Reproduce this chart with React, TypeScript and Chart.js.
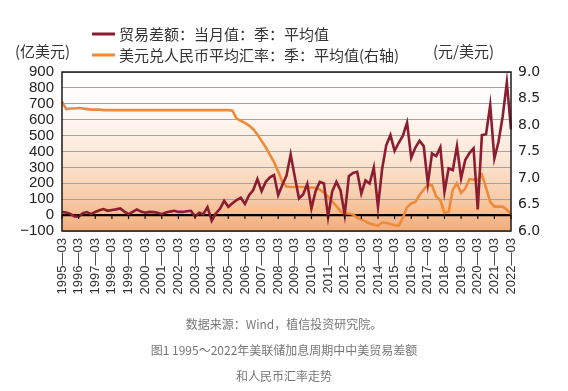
import React, { useEffect, useRef } from "react";
import { Chart, registerables } from "chart.js";

Chart.register(...registerables);

const YEARS = [
  1995, 1996, 1997, 1998, 1999, 2000, 2001, 2002, 2003, 2004, 2005, 2006, 2007, 2008,
  2009, 2010, 2011, 2012, 2013, 2014, 2015, 2016, 2017, 2018, 2019, 2020, 2021, 2022,
];
const QUARTER_MONTHS = ["03", "06", "09", "12"];
const LAST_CATEGORY = "2022—03";

const CATEGORIES: string[] = [];
for (const y of YEARS) {
  for (const m of QUARTER_MONTHS) {
    const c = `${y}—${m}`;
    if (CATEGORIES.length === 0 || CATEGORIES[CATEGORIES.length - 1] !== LAST_CATEGORY) CATEGORIES.push(c);
  }
}

// 贸易差额：当月值：季：平均值 (亿美元)
const TRADE_BALANCE = [
  20, 16, 8, -8, -10, 12, 19, 6,
  20, 30, 38, 27, 32, 36, 42, 22,
  6, 20, 36, 22, 15, 20, 19, 14,
  6, 16, 22, 27, 20, 20, 24, 27,
  -8, 15, 6, 50, -36, 10, 40, 90,
  52, 75, 95, 109, 70, 125, 158, 226,
  150, 209, 238, 252, 126, 190, 248, 382,
  240, 105, 130, 197, 42, 150, 209, 199,
  -11, 150, 209, 155, 2, 245, 265, 272,
  136, 218, 199, 300, 52, 290, 440, 503,
  404, 455, 500, 582, 360, 425, 467, 434,
  199, 388, 371, 426, 147, 294, 283, 434,
  231, 346, 390, 419, 36, 503, 509, 692,
  356, 461, 620, 835, 539,
];

// 美元兑人民币平均汇率：季：平均值 (元/美元, 右轴)
const USDCNY = [
  8.44, 8.30, 8.31, 8.31, 8.32, 8.31, 8.30, 8.29,
  8.29, 8.29, 8.28, 8.28, 8.28, 8.28, 8.28, 8.28,
  8.28, 8.28, 8.28, 8.28, 8.28, 8.28, 8.28, 8.28,
  8.28, 8.28, 8.28, 8.28, 8.28, 8.28, 8.28, 8.28,
  8.28, 8.28, 8.28, 8.28, 8.28, 8.28, 8.28, 8.28,
  8.28, 8.27, 8.12, 8.08, 8.04, 7.99, 7.92, 7.82,
  7.70, 7.58, 7.44, 7.30, 7.12, 6.93, 6.84, 6.83,
  6.83, 6.83, 6.83, 6.82, 6.82, 6.81, 6.78, 6.72,
  6.65, 6.56, 6.47, 6.37, 6.33, 6.33, 6.31, 6.25,
  6.22, 6.18, 6.14, 6.12, 6.10, 6.16, 6.15, 6.13,
  6.11, 6.10, 6.25, 6.45, 6.52, 6.55, 6.68, 6.78,
  6.87, 6.86, 6.65, 6.58, 6.34, 6.36, 6.78, 6.90,
  6.72, 6.80, 6.98, 6.97, 6.96, 7.06, 6.82, 6.55,
  6.46, 6.46, 6.46, 6.40, 6.32,
];

const LEFT_MIN = -100;
const LEFT_MAX = 900;
const LEFT_STEP = 100;
const RIGHT_MIN = 6;
const RIGHT_MAX = 9;
const RIGHT_STEP = 0.5;

const SERIES_NAMES = ["贸易差额：当月值：季：平均值", "美元兑人民币平均汇率：季：平均值(右轴)"];
const LEFT_UNIT = "(亿美元)";
const RIGHT_UNIT = "(元/美元)";
const CAPTION_LINES = [
  "数据来源：Wind，植信投资研究院。",
  "图1 1995～2022年美联储加息周期中中美贸易差额",
  "和人民币汇率走势",
];

const MAROON = "#8b1d33";
const ORANGE = "#ef8a3a";
const CJK = '"Noto Sans CJK SC", "Noto Sans", sans-serif';

const decorPlugin = {
  id: "decor",
  beforeDraw(chart: any) {
    const { ctx, chartArea: a } = chart;
    const g = ctx.createLinearGradient(0, a.top, 0, a.bottom);
    g.addColorStop(0, "#ffffff");
    g.addColorStop(0.2, "#fffcfa");
    g.addColorStop(0.55, "#fce6d4");
    g.addColorStop(0.8, "#f7cba8");
    g.addColorStop(1, "#f1ad7b");
    ctx.save();
    ctx.fillStyle = g;
    ctx.fillRect(a.left, a.top, a.right - a.left, a.bottom - a.top);
    ctx.restore();
  },
  afterDraw(chart: any) {
    const { ctx, chartArea: a } = chart;
    ctx.save();
    // plot border
    ctx.strokeStyle = "#1a1a1a";
    ctx.lineWidth = 1.5;
    ctx.strokeRect(a.left, a.top, a.right - a.left, a.bottom - a.top);

    // small tick marks on the zero line
    const y0 = chart.scales.y.getPixelForValue(0);
    const xs = chart.scales.x;
    ctx.lineWidth = 1.2;
    ctx.strokeStyle = "#111";
    CATEGORIES.forEach((_c, i) => {
      if (i % 4 === 0) {
        const x = xs.getPixelForValue(i);
        ctx.beginPath();
        ctx.moveTo(x, y0);
        ctx.lineTo(x, y0 + 4);
        ctx.stroke();
      }
    });

    // legend
    const colors = [MAROON, ORANGE];
    const rowsY = [34, 55];
    ctx.font = `15px ${CJK}`;
    ctx.textBaseline = "middle";
    ctx.textAlign = "left";
    SERIES_NAMES.forEach((name, i) => {
      ctx.strokeStyle = colors[i];
      ctx.lineWidth = 3;
      ctx.beginPath();
      ctx.moveTo(92, rowsY[i]);
      ctx.lineTo(115, rowsY[i]);
      ctx.stroke();
      ctx.fillStyle = "#333";
      ctx.fillText(name, 119, rowsY[i]);
    });

    // axis units
    ctx.fillStyle = "#333";
    ctx.textAlign = "left";
    ctx.fillText(LEFT_UNIT, 15, 51);
    ctx.fillText(RIGHT_UNIT, 433, 51);

    // captions
    ctx.font = `12px ${CJK}`;
    ctx.fillStyle = "#777";
    ctx.textAlign = "center";
    const capY = [324, 350, 376];
    CAPTION_LINES.forEach((t, i) => ctx.fillText(t, 284, capY[i]));
    ctx.restore();
  },
};

export default function App() {
  const ref = useRef<HTMLCanvasElement>(null);
  useEffect(() => {
    const chart = new Chart(ref.current!, {
      type: "line",
      data: {
        labels: CATEGORIES,
        datasets: [
          {
            label: SERIES_NAMES[0],
            data: TRADE_BALANCE,
            borderColor: MAROON,
            borderWidth: 2.6,
            pointRadius: 0,
            tension: 0,
            yAxisID: "y",
          },
          {
            label: SERIES_NAMES[1],
            data: USDCNY,
            borderColor: ORANGE,
            borderWidth: 2.6,
            pointRadius: 0,
            tension: 0,
            yAxisID: "y1",
          },
        ],
      },
      options: {
        responsive: false,
        devicePixelRatio: 1,
        animation: false,
        layout: { padding: { top: 72, left: 0, right: 0, bottom: 0 } },
        plugins: { legend: { display: false }, tooltip: { enabled: false }, title: { display: false } },
        scales: {
          x: {
            type: "category",
            offset: false,
            grid: { display: false, drawTicks: false },
            border: { display: false },
            ticks: {
              autoSkip: false,
              maxRotation: 90,
              minRotation: 90,
              padding: 7,
              color: "#333",
              font: { family: '"Liberation Sans", Arial, sans-serif', size: 13 },
              callback: (_v: any, i: number) => (i % 4 === 0 ? CATEGORIES[i] : null),
            },
            afterFit: (s: any) => {
              s.height = 160;
            },
          },
          y: {
            position: "left",
            min: LEFT_MIN,
            max: LEFT_MAX,
            border: { display: false },
            grid: {
              drawTicks: false,
              color: (c: any) => (c.tick && c.tick.value === 0 ? "#000" : "#a3a3a3"),
              lineWidth: (c: any) => (c.tick && c.tick.value === 0 ? 2.2 : 1),
            },
            ticks: {
              autoSkip: false,
              stepSize: LEFT_STEP,
              padding: 8,
              color: "#222",
              font: { family: '"Liberation Sans", Arial, sans-serif', size: 15 },
              callback: (v: any) => (v < 0 ? "−" + Math.abs(v) : String(v)),
            },
            afterFit: (s: any) => {
              s.width = 62;
            },
          },
          y1: {
            position: "right",
            min: RIGHT_MIN,
            max: RIGHT_MAX,
            border: { display: false },
            grid: { drawOnChartArea: false, drawTicks: false },
            ticks: {
              autoSkip: false,
              stepSize: RIGHT_STEP,
              padding: 7,
              color: "#222",
              font: { family: '"DejaVu Sans", sans-serif', size: 14 },
              callback: (v: any) => Number(v).toFixed(1),
            },
            afterFit: (s: any) => {
              s.width = 57;
            },
          },
        },
      },
      plugins: [decorPlugin],
    } as any);
    return () => chart.destroy();
  }, []);
  return (
    <div style={{ position: "absolute", left: 0, top: 0, width: 568, height: 391, background: "#fff" }}>
      <canvas ref={ref} width={568} height={391} style={{ display: "block", width: 568, height: 391 }} />
    </div>
  );
}
